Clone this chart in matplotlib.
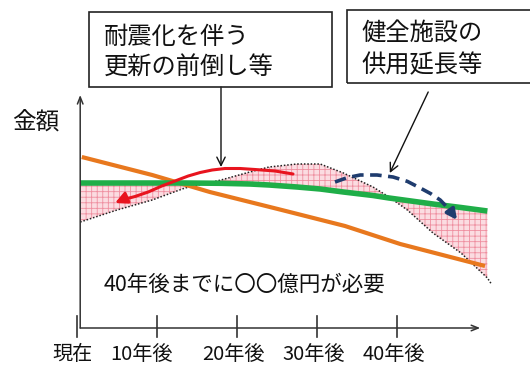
import matplotlib
matplotlib.use("Agg")
import matplotlib.pyplot as plt
from matplotlib.patches import Rectangle, FancyArrowPatch
from matplotlib.path import Path

plt.rcParams['font.family'] = ['Noto Sans CJK JP', 'DejaVu Sans']
plt.rcParams['hatch.linewidth'] = 0.6

# ---- data (years from now, relative amount) ----
tick_years = [0, 10, 20, 30, 40]
tick_labels = ["現在", "10年後", "20年後", "30年後", "40年後"]

# common year grid for the demand curve and the levelled budget line
grid_years = [0.4, 5, 9.4, 13.5, 18, 21.6, 24, 27.5, 30.4, 33.3, 37, 39, 41.3, 44.5, 48, 51.3]
demand = [53, 59, 64, 70, 74, 78, 80.5, 82, 82, 77.5, 70.5, 65.5, 59, 47.5, 37.5, 25]
levelled = [72.5, 72.5, 72.5, 72.5, 72.35, 72, 71.5, 70.5, 69.5, 68, 66.25, 65, 63.75, 62, 60.25, 58.5]
demand_tail_year = [51.3, 51.8]
demand_tail = [25, 22]

# declining line
decline_years = [0.6, 9.4, 16.6, 25.4, 33.5, 40.4, 51]
decline = [85.5, 76.5, 68, 59.2, 51, 42, 31]

# curved arrow: bringing renewal forward
fwd_years = [27, 24.75, 22.25, 20.4, 18.5, 16.9, 15.4, 13.9, 12.25, 10.6, 8.9, 7.25, 5.6, 4.75]
fwd_amt = [77, 78.5, 79.25, 79.75, 79.75, 79, 77.75, 76, 73.5, 71, 68, 65.75, 64, 62.5]

# dashed arrow: extending service life
ext_years = [32.25, 33.8, 35.4, 37.5, 39.5, 41.3, 42.9, 44.2, 45.4, 46.6, 47.5]
ext_amt = [73, 75.2, 76.5, 76.5, 75.5, 73.3, 70, 67.2, 64, 59, 54]

W, H = 530, 367
fig = plt.figure(figsize=(W / 100, H / 100), dpi=100)
ax = fig.add_axes([0, 0, 1, 1])
# 8 px per year, 2 px per amount unit; origin at (77, 328) px
ax.set_xlim(-77 / 8, (W - 77) / 8)
ax.set_ylim((328 - H) / 2, 328 / 2)
ax.axis("off")


def fx(px):
    return px / W


def fy(py):
    return 1 - py / H


# hatched difference area
ax.fill_between(grid_years, demand, levelled, facecolor="#fbdce1",
                edgecolor="#ef8fa0", hatch="+++", linewidth=0, zorder=1)

# demand curve (dotted)
ax.plot(grid_years + demand_tail_year[1:], demand + demand_tail[1:],
        color="#222222", linestyle=(0, (1, 1.2)), linewidth=1.1, zorder=2)

# declining (orange) and levelled (green)
ax.plot(decline_years, decline, color="#e8781e", linewidth=3.0,
        solid_capstyle="butt", zorder=3)
ax.plot(grid_years, levelled, color="#1fae48", linewidth=4.0,
        solid_capstyle="butt", solid_joinstyle="round", zorder=3)

# red curved arrow
verts = list(zip(fwd_years, fwd_amt))
red_path = Path(verts, [Path.MOVETO] + [Path.LINETO] * (len(verts) - 1))
ax.add_patch(FancyArrowPatch(path=red_path, arrowstyle="-|>,head_length=7,head_width=3.5",
                             color="#e8141e", linewidth=2.2, zorder=4,
                             joinstyle="round", capstyle="round"))

# blue dashed arrow
ax.plot(ext_years[:-1], ext_amt[:-1], color="#1f3c6e", linewidth=2.6,
        linestyle=(0, (3.2, 1.8)), solid_joinstyle="round", zorder=4)
ax.annotate("", xy=(ext_years[-1], ext_amt[-1]), xytext=(ext_years[-2], ext_amt[-2]),
            arrowprops=dict(arrowstyle="-|>,head_length=0.6,head_width=0.3",
                            color="#1f3c6e", linewidth=2.6, shrinkA=0, shrinkB=0),
            zorder=4)

# axes with arrow heads
ax.annotate("", xy=(0.4, 116.5), xytext=(0.4, 0),
            arrowprops=dict(arrowstyle="->,head_length=0.5,head_width=0.2",
                            color="#333333", linewidth=1.1, shrinkA=0, shrinkB=0))
ax.annotate("", xy=(50.4, 0), xytext=(0.4, 0),
            arrowprops=dict(arrowstyle="->,head_length=0.5,head_width=0.2",
                            color="#333333", linewidth=1.1, shrinkA=0, shrinkB=0))
label_shift = [-0.6, -1.9, -0.4, -0.4, -0.4]
for yr, lab, sh in zip(tick_years, tick_labels, label_shift):
    ax.plot([yr, yr], [6, -4.5], color="#333333", linewidth=1.2)
    ax.text(yr + sh, -13.5, lab, ha="center", va="center", fontsize=14.5, color="#111111")

ax.text(fx(36), fy(122), "金額", transform=fig.transFigure, ha="center", va="center",
        fontsize=17, color="#111111")

ax.text(fx(104), fy(285), "40年後までに〇〇億円が必要", transform=fig.transFigure,
        ha="left", va="center", fontsize=15.5, color="#111111")

# callout boxes
fig.patches.append(Rectangle((fx(89), fy(87)), fx(332) - fx(89), fy(12) - fy(87),
                             transform=fig.transFigure, fill=False,
                             edgecolor="#222222", linewidth=1.2))
fig.patches.append(Rectangle((fx(347), fy(83)), fx(560) - fx(347), fy(10) - fy(83),
                             transform=fig.transFigure, fill=False,
                             edgecolor="#222222", linewidth=1.2))
ax.text(fx(104), fy(37), "耐震化を伴う", transform=fig.transFigure,
        ha="left", va="center", fontsize=17.5, color="#111111")
ax.text(fx(104), fy(68), "更新の前倒し等", transform=fig.transFigure,
        ha="left", va="center", fontsize=17.5, color="#111111")
ax.text(fx(361), fy(33), "健全施設の", transform=fig.transFigure,
        ha="left", va="center", fontsize=17.5, color="#111111")
ax.text(fx(361), fy(65), "供用延長等", transform=fig.transFigure,
        ha="left", va="center", fontsize=17.5, color="#111111")

# pointer arrows from the boxes
ax.annotate("", xy=(18, 80.5), xytext=(18, 120.5),
            arrowprops=dict(arrowstyle="->,head_length=0.6,head_width=0.3",
                            color="#111111", linewidth=1.0, shrinkA=0, shrinkB=0))
ax.annotate("", xy=(39.1, 77.5), xytext=(43.9, 118),
            arrowprops=dict(arrowstyle="->,head_length=0.6,head_width=0.3",
                            color="#111111", linewidth=1.0, shrinkA=0, shrinkB=0))

fig.savefig("out.png", dpi=100)
